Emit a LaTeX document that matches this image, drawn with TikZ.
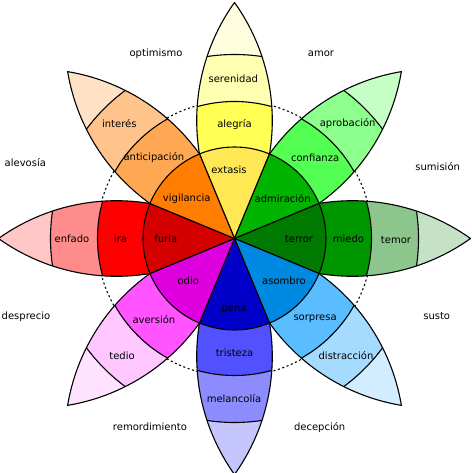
\documentclass[tikz,border=0pt]{standalone}
\usepackage{fontspec}
\setmainfont{DejaVu Sans}
\usepackage{tikz}

\definecolor{extasis}{HTML}{FFE854}
\definecolor{alegria}{HTML}{FFFF54}
\definecolor{serenidad}{HTML}{FFFFB1}
\definecolor{amarillotip}{HTML}{FFFFDF}
\definecolor{admiracion}{HTML}{00B400}
\definecolor{confianza}{HTML}{54FF54}
\definecolor{aprobacion}{HTML}{8CFF8C}
\definecolor{verdetip}{HTML}{C6FFC6}
\definecolor{terror}{HTML}{007A00}
\definecolor{miedo}{HTML}{009600}
\definecolor{temor}{HTML}{8CC68C}
\definecolor{oscurotip}{HTML}{C6E2C6}
\definecolor{asombro}{HTML}{0089E0}
\definecolor{sorpresa}{HTML}{59BDFF}
\definecolor{distraccion}{HTML}{A5DBFF}
\definecolor{celestetip}{HTML}{D2EDFF}
\definecolor{pena}{HTML}{0000C8}
\definecolor{tristeza}{HTML}{5151FF}
\definecolor{melancolia}{HTML}{8C8CFF}
\definecolor{azultip}{HTML}{C6C6FF}
\definecolor{odio}{HTML}{DE00DE}
\definecolor{aversion}{HTML}{FF54FF}
\definecolor{tedio}{HTML}{FFC6FF}
\definecolor{moradotip}{HTML}{FFE2FF}
\definecolor{furia}{HTML}{D40000}
\definecolor{ira}{HTML}{FF0000}
\definecolor{enfado}{HTML}{FF8C8C}
\definecolor{rojotip}{HTML}{FFC6C6}
\definecolor{vigilancia}{HTML}{FF7D00}
\definecolor{anticipacion}{HTML}{FFA854}
\definecolor{interes}{HTML}{FFC48C}
\definecolor{naranjatip}{HTML}{FFE2C6}

\begin{document}
\begin{tikzpicture}[
    x=1pt, y=1pt,
    every node/.style={font=\fontsize{10}{12}\selectfont, inner sep=0pt},
    edge/.style={line width=1.1pt, line join=round},
    guide/.style={line width=1.1pt, dash pattern=on 2pt off 2.6pt},
    petal outline/.style={insert path={(0,0) arc[start angle=125.52, end angle=54.48, radius=203.1]
        arc[start angle=-54.48, end angle=-125.52, radius=203.1] -- cycle}}
]
\useasboundingbox (-234.5,-234.5) rectangle (236.5,238.5);

% dotted ring between the petals
\draw[guide] (0,0) circle[radius=138];

% Petals
\foreach \ang/\mid/\out/\tip in {90/alegria/serenidad/amarillotip, 45/confianza/aprobacion/verdetip,
    0/miedo/temor/oscurotip, 315/sorpresa/distraccion/celestetip, 270/tristeza/melancolia/azultip,
    225/aversion/tedio/moradotip, 180/ira/enfado/rojotip, 135/anticipacion/interes/naranjatip}{
  \begin{scope}[rotate=\ang]
    \begin{scope}
      \clip[petal outline];
      \fill[\tip] (0,0) circle[radius=240];
      \fill[\out] (0,0) circle[radius=184];
      \fill[\mid] (0,0) circle[radius=137];
      \draw[edge] (0,0) circle[radius=137] (0,0) circle[radius=184];
    \end{scope}
    \draw[edge, petal outline];
  \end{scope}
}

% Core
\foreach \ang/\core in {90/extasis, 45/admiracion, 0/terror, 315/asombro,
    270/pena, 225/odio, 180/furia, 135/vigilancia}{
  \filldraw[edge, fill=\core] (0,0) -- (\ang-22.5:91.5)
    arc[start angle=\ang-22.5, end angle=\ang+22.5, radius=91.5] -- cycle;
}

% Labels on the petals
\foreach \ang/\mid/\out/\outpos in {90/alegría/serenidad/{(-1.2,160.2)}, 45/confianza/aprobación/{(113.2,114.5)},
    0/miedo/temor/{(161.5,-1.5)}, 315/sorpresa/distracción/{(111.5,-117.5)},
    270/tristeza/melancolía/{(-0.5,-160.5)}, 225/aversión/tedio/{(-112.5,-117.5)},
    180/ira/enfado/{(-162.5,0)}, 135/anticipación/interés/{(-115.2,114.5)}}{
  \node (mid\ang) at (\ang:114) {\mid};
  \node (out\ang) at \outpos {\out};
}
\node (extasis) at (-5.5,68.5) {extasis};
\node (admiracion) at (48.2,40.2) {admiración};
\node (terror) at (64.5,-0.8) {terror};
\node (asombro) at (49.5,-41.8) {asombro};
\node (pena) at (-0.5,-71.5) {pena};
\node (odio) at (-46.2,-41.8) {odio};
\node (furia) at (-68.8,0.2) {furia};
\node (vigilancia) at (-47.8,40.2) {vigilancia};

% Labels between the petals
\node (amor) at (86.5,185.2) {amor};
\node (sumision) at (203.2,71.8) {sumisión};
\node (susto) at (202.2,-77.8) {susto};
\node (decepcion) at (85.2,-188.8) {decepción};
\node (remordimiento) at (-84.5,-187.8) {remordimiento};
\node (desprecio) at (-208.5,-78.2) {desprecio};
\node (alevosia) at (-209.2,75.8) {alevosía};
\node (optimismo) at (-78.5,185.2) {optimismo};

\end{tikzpicture}
\end{document}
